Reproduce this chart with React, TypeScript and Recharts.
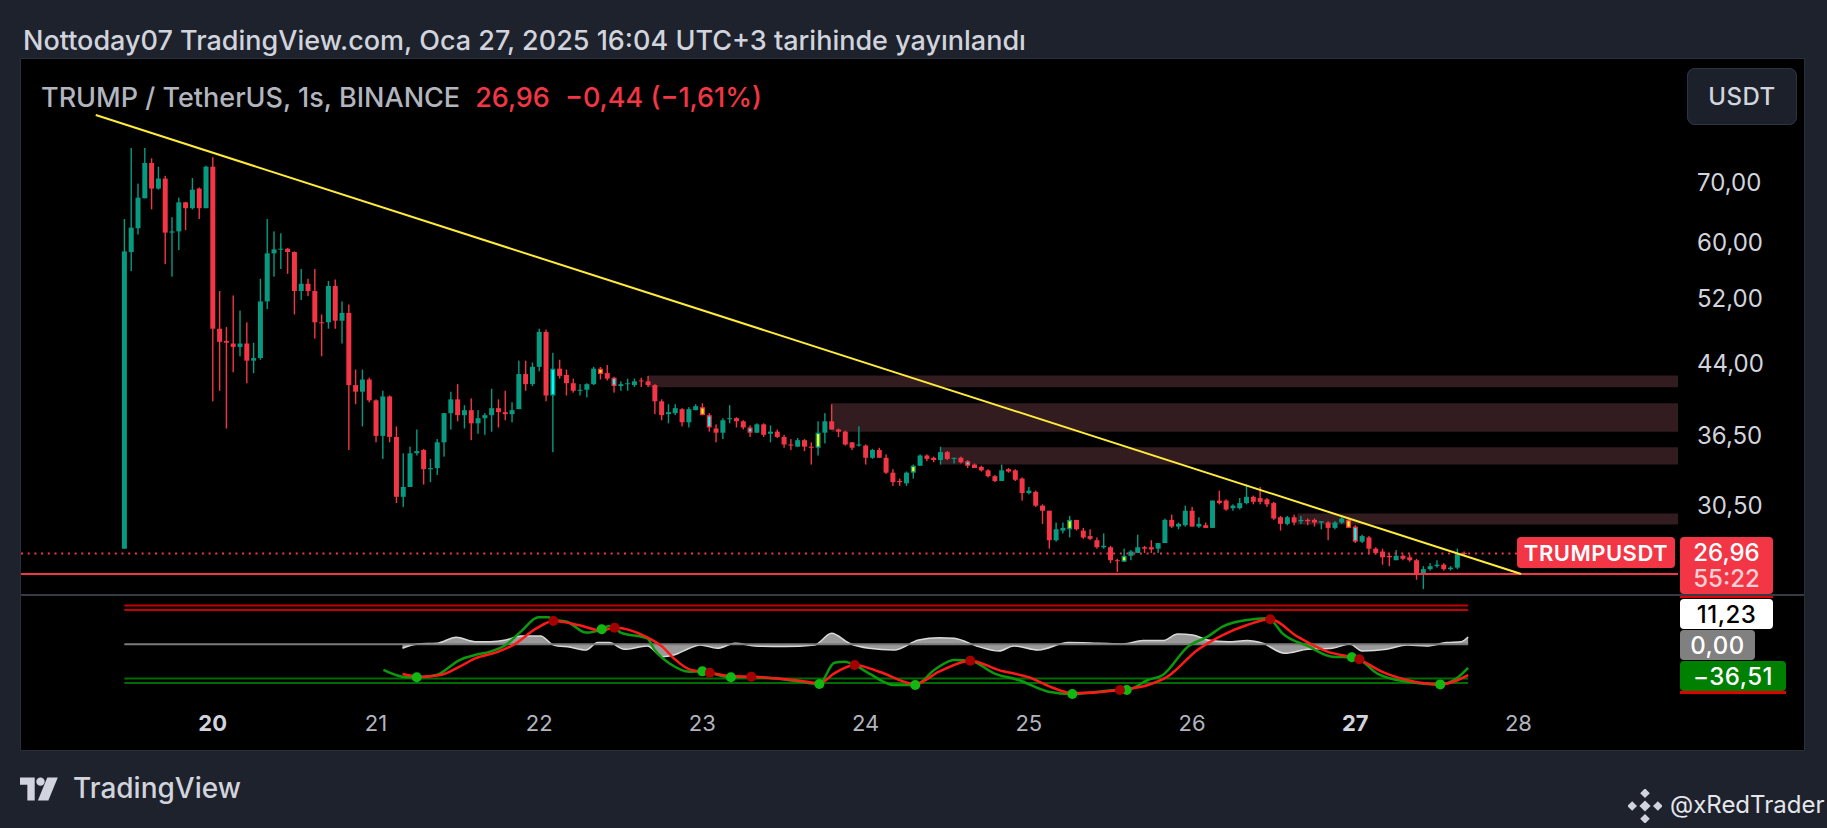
import { ComposedChart, Bar, Line, Area, Scatter, XAxis, YAxis, ReferenceLine, ReferenceArea } from 'recharts';

const UP = '#089981';
const DOWN = '#f23645';
const FONT = 'Inter, "Noto Sans", sans-serif';

// hourly candles, 19 Jan 11:00 -> 27 Jan 16:00, [open, high, low, close]
const OHLC: [number, number, number, number][] = [
  [27.3, 63.8, 27.3, 58.7], [58.6, 76.6, 55.8, 62.4], [62.3, 69.9, 61.3, 67.4], [67.3, 76.6, 67.3, 73.7],
  [73.7, 74.6, 65.4, 69.0], [69.0, 73.0, 68.8, 70.8], [70.8, 71.3, 56.8, 61.6], [61.6, 64.1, 55.0, 61.8],
  [61.8, 67.4, 58.9, 66.6], [66.6, 66.7, 62.0, 65.6], [65.6, 70.9, 65.4, 68.8], [69.0, 69.2, 63.8, 65.6],
  [65.6, 73.2, 65.6, 73.0], [73.0, 74.8, 39.9, 48.1], [48.1, 53.0, 41.0, 46.5], [46.6, 48.3, 37.2, 46.4],
  [46.3, 52.4, 43.0, 45.9], [45.9, 50.4, 44.8, 46.3], [46.3, 48.9, 41.8, 44.3], [44.3, 46.4, 42.9, 44.6],
  [44.6, 54.7, 44.4, 51.6], [51.6, 63.8, 50.6, 58.4], [58.4, 61.8, 55.0, 59.0], [59.0, 61.5, 56.1, 59.1],
  [59.1, 59.2, 55.4, 58.6], [58.6, 58.7, 49.9, 53.0], [53.0, 56.1, 51.8, 54.0], [54.0, 54.7, 52.3, 53.0],
  [53.0, 56.1, 46.9, 48.9], [48.9, 49.9, 44.8, 48.8], [48.9, 54.4, 48.1, 53.7], [53.7, 54.6, 48.1, 49.1],
  [49.1, 51.6, 46.3, 50.1], [50.1, 51.2, 35.2, 41.6], [41.6, 43.3, 39.6, 40.9], [40.9, 43.3, 37.4, 42.2],
  [42.2, 42.4, 39.8, 40.0], [40.0, 40.1, 35.9, 36.5], [36.5, 41.0, 34.4, 40.4], [40.4, 40.5, 35.9, 36.4],
  [36.4, 37.4, 30.7, 31.2], [31.2, 34.9, 30.4, 32.0], [32.0, 35.5, 32.0, 34.9], [34.9, 37.1, 34.7, 35.1],
  [35.2, 35.3, 32.2, 33.5], [33.5, 34.4, 32.4, 33.6], [33.6, 36.2, 33.0, 35.9], [35.9, 38.7, 34.6, 38.7],
  [38.7, 40.9, 37.1, 40.1], [40.1, 41.7, 37.9, 38.5], [38.5, 39.5, 37.2, 39.0], [39.0, 40.2, 36.1, 37.7],
  [37.7, 39.0, 36.7, 38.2], [38.2, 38.7, 36.6, 38.5], [38.5, 41.2, 36.9, 39.2], [39.2, 40.1, 37.3, 38.8],
  [38.8, 41.0, 38.0, 38.6], [38.6, 39.8, 37.8, 39.0], [39.1, 44.3, 39.1, 42.8], [42.8, 44.3, 41.0, 41.7],
  [41.7, 44.1, 41.5, 43.6], [43.6, 48.1, 43.1, 47.7], [47.7, 48.0, 39.9, 40.5], [40.5, 45.2, 35.0, 43.4],
  [43.4, 44.4, 42.3, 42.6], [42.7, 43.3, 40.5, 41.8], [41.8, 42.3, 40.8, 41.0], [41.0, 41.7, 40.5, 41.1],
  [41.1, 41.8, 40.3, 41.7], [41.7, 43.6, 41.6, 43.4], [43.4, 43.6, 42.2, 42.8], [42.9, 43.8, 42.1, 42.3],
  [42.4, 42.5, 40.8, 41.5], [41.5, 42.0, 41.0, 41.7], [41.7, 42.3, 41.0, 41.8], [41.6, 42.3, 41.4, 42.0],
  [42.1, 42.4, 41.4, 42.0], [42.0, 42.6, 41.4, 41.6], [41.6, 41.7, 38.6, 39.9], [39.9, 40.1, 38.0, 38.5],
  [38.6, 39.6, 37.7, 38.8], [38.7, 39.6, 38.5, 39.2], [39.1, 39.2, 37.4, 37.8], [37.8, 39.3, 37.3, 39.1],
  [39.0, 39.6, 39.0, 39.4], [39.3, 39.7, 38.5, 38.5], [38.5, 38.7, 36.9, 37.3], [37.2, 37.6, 35.9, 36.8],
  [36.8, 38.2, 36.2, 38.0], [38.1, 39.5, 37.7, 38.2], [38.2, 38.3, 37.3, 37.9], [37.9, 38.0, 37.1, 37.3],
  [37.3, 37.5, 36.4, 36.8], [36.8, 37.7, 36.8, 37.6], [37.6, 37.7, 36.4, 36.6], [36.7, 37.5, 35.9, 36.9],
  [36.9, 37.1, 36.3, 36.4], [36.4, 36.6, 35.4, 35.7], [35.7, 36.2, 35.2, 35.6], [35.5, 36.3, 35.5, 36.1],
  [36.1, 36.2, 35.1, 35.5], [35.5, 35.9, 33.9, 35.4], [35.4, 37.9, 34.7, 36.8], [36.8, 38.7, 35.8, 37.9],
  [37.9, 39.6, 37.1, 37.1], [37.1, 37.2, 36.4, 36.9], [36.9, 37.0, 35.6, 35.7], [35.9, 35.9, 35.2, 35.4],
  [35.6, 37.4, 35.5, 35.7], [35.6, 35.7, 33.9, 34.5], [34.5, 35.3, 34.4, 35.2], [35.2, 35.4, 34.5, 34.5],
  [34.5, 34.8, 33.1, 33.2], [33.2, 33.5, 32.1, 32.4], [32.5, 32.7, 32.1, 32.4], [32.3, 33.3, 32.1, 33.2],
  [33.2, 33.9, 32.7, 33.8], [33.8, 34.8, 33.8, 34.7], [34.7, 34.8, 34.2, 34.4], [34.5, 34.6, 34.1, 34.3],
  [34.3, 35.5, 33.9, 35.0], [35.0, 35.1, 34.3, 34.4], [34.4, 34.5, 34.0, 34.5], [34.5, 34.6, 34.0, 34.1],
  [34.2, 34.3, 33.6, 33.8], [33.9, 34.0, 33.6, 33.6], [33.7, 33.8, 33.3, 33.4], [33.4, 33.5, 32.8, 32.9],
  [32.9, 33.0, 32.4, 32.5], [32.5, 33.9, 32.5, 33.4], [33.5, 33.6, 33.2, 33.3], [33.4, 33.5, 32.5, 32.6],
  [32.7, 32.8, 30.9, 31.5], [31.5, 32.0, 31.4, 31.7], [31.6, 31.7, 30.4, 30.5], [30.5, 30.6, 29.1, 30.1],
  [30.1, 30.1, 27.3, 27.9], [27.9, 29.2, 27.8, 28.7], [28.6, 29.2, 28.4, 28.8], [28.7, 29.7, 28.1, 29.4],
  [29.4, 29.4, 28.6, 28.7], [28.6, 28.8, 28.0, 28.1], [28.2, 28.7, 27.9, 28.0], [27.9, 28.1, 27.3, 27.4],
  [27.4, 28.4, 27.3, 27.5], [27.4, 27.5, 26.3, 26.5], [26.5, 26.6, 25.7, 26.45], [26.4, 27.3, 26.4, 26.8],
  [26.8, 27.2, 26.5, 27.1], [27.0, 28.3, 27.0, 27.4], [27.4, 27.5, 27.0, 27.3], [27.4, 27.9, 27.0, 27.25],
  [27.3, 27.7, 27.0, 27.7], [27.7, 29.5, 27.7, 29.4], [29.4, 29.8, 28.8, 28.9], [28.9, 29.2, 28.7, 29.1],
  [29.0, 30.5, 28.9, 30.1], [30.1, 30.4, 28.9, 28.9], [28.9, 29.6, 28.8, 29.1], [29.0, 29.2, 28.8, 28.8],
  [28.8, 30.9, 28.8, 30.9], [30.9, 31.7, 30.6, 30.7], [30.9, 31.0, 30.1, 30.2], [30.3, 30.6, 30.1, 30.5],
  [30.3, 31.1, 30.2, 30.7], [30.7, 32.2, 30.6, 31.2], [31.2, 31.3, 30.6, 30.8], [31.1, 32.0, 30.6, 30.8],
  [31.0, 31.1, 30.4, 30.6], [30.7, 30.8, 29.4, 29.5], [29.6, 29.7, 28.6, 29.1], [29.1, 29.7, 29.0, 29.6],
  [29.6, 29.8, 29.0, 29.2], [29.3, 29.7, 29.1, 29.4], [29.4, 29.5, 29.0, 29.3], [29.4, 29.5, 28.9, 29.2],
  [29.2, 29.3, 28.7, 29.3], [29.2, 29.3, 27.9, 28.8], [28.8, 29.3, 28.7, 29.2], [29.2, 29.7, 29.1, 29.5],
  [29.4, 29.6, 28.8, 28.8], [28.9, 29.0, 27.7, 27.8], [27.8, 28.3, 27.7, 28.2], [28.1, 28.2, 26.9, 27.3],
  [27.3, 27.4, 26.9, 27.0], [27.1, 27.3, 26.2, 26.7], [26.8, 27.0, 26.1, 26.7], [26.5, 27.2, 26.5, 26.8],
  [26.8, 26.9, 26.5, 26.6], [26.7, 26.9, 26.4, 26.5], [26.5, 26.6, 25.2, 25.6], [25.6, 26.1, 24.6, 25.9],
  [25.9, 26.3, 25.8, 26.1], [26.1, 26.5, 26.0, 26.2], [26.2, 26.3, 25.8, 25.9], [25.9, 26.1, 25.8, 26.0],
  [26.0, 27.3, 25.9, 26.9], [27.0, 27.1, 26.8, 26.96],
];

// bars painted by the indicator
const CYAN_BARS = [63, 72, 86, 92, 124, 181];
const YELLOW_BARS = [70, 85, 102, 116, 139, 147, 180];

const PRICE_TICKS = [30.5, 36.5, 44, 52, 60, 70];
const DAY_TICKS = [13, 37, 61, 85, 109, 133, 157, 181, 205];
const DAY_LABELS = ['20', '21', '22', '23', '24', '25', '26', '27', '28'];
const BOLD_DAYS = ['20', '27'];

const ZONES = [
  { from: 77, top: 42.65, bottom: 41.36 },
  { from: 104, top: 39.7, bottom: 36.9 },
  { from: 120, top: 35.44, bottom: 33.9 },
  { from: 172.5, top: 29.89, bottom: 29.05 },
];

const TREND = [{ i: -4.2, p: 83.4 }, { i: 205.4, p: 25.58 }];
const SUPPORT = 25.58;
const LAST_PRICE = 26.96;

// WaveTrend oscillator: [bar index, value]
const WT1 = [
  [38.1, -39.8], [41.5, -51.2], [43, -51.2], [45.9, -47.6], [49.3, -24.4], [51.6, -16.6], [53.8, -11.4],
  [56.1, -1.1], [58.3, 19.6], [60.9, 41.8], [62.3, 41.8], [63.1, 38], [65.1, 35], [67.9, 18.1], [70.2, 23.2],
  [71.3, 28.4], [72.1, 26], [73, 18.1], [76.9, 9.3], [78, -9], [80.3, -30.6], [83.1, -42.5], [85, -42],
  [86.1, -44.1], [89.2, -51.2], [92.2, -50.2], [95.6, -52.8], [99.3, -58], [102.2, -61.6], [104.4, -28.5],
  [105.9, -27], [107.4, -32.1], [109.5, -45.1], [113.2, -63.2], [116.3, -63.2], [119.1, -39.9], [122, -24.4],
  [124.4, -25.4], [127.9, -45.1], [131.5, -55.4], [135.9, -73.5], [139.4, -77.1], [143.2, -73.5],
  [146.4, -70.9], [147.4, -70.9], [150.5, -55.4], [152.7, -47.6], [156.4, -3.6], [159.3, 11.9], [161.5, 27.4],
  [165.1, 37.7], [168.1, 40.3], [168.5, 38.8], [170.3, 17], [174, -2.6], [177.6, -19.2], [180.5, -20.2],
  [181.6, -23.3], [184.2, -45.1], [188.6, -58], [193.5, -62.2], [195.9, -52.8], [197.6, -36.5],
].map(([i, v]) => ({ i, v }));

const WT2 = [
  [40.9, -46], [43.7, -50.2], [46.5, -47.6], [49.3, -34.7], [51.6, -21.8], [55, -11.4], [57.2, -1.1],
  [60.6, 24.7], [63.1, 36.1], [66.8, 29.9], [70.2, 21.2], [72.1, 25.8], [76.9, 10.9], [79.1, -3.6],
  [80.8, -21.8], [83.1, -38.9], [86.1, -44], [89.2, -49.2], [92.2, -50.2], [95.6, -52.8], [99.3, -56.4],
  [102.2, -60.6], [104.4, -45.1], [107.4, -32.1], [111, -42.5], [116.3, -61.6], [119.8, -42.5],
  [124.4, -25.4], [128.6, -40], [133, -51.2], [136.7, -68.2], [139.4, -76], [146.4, -70.9], [150.5, -63.2],
  [153.4, -50.2], [157.8, -8.8], [161.5, 14.4], [165.1, 30], [168.5, 38.8], [172.5, 11.9], [176.9, -11.4],
  [181.6, -23.3], [184.9, -42.5], [188.6, -55.4], [193.5, -62.2], [197.6, -47.7],
].map(([i, v]) => ({ i, v }));

const WT_DIFF = [
  [40.9, -6.2], [43.1, 0.5], [46, 1.6], [48.8, 10.9], [51.6, 4.1], [53.8, 4.1], [56.1, 6.7], [58.3, 12.9],
  [61.2, 12.9], [63.1, -1.1], [65.6, -4.7], [67.9, -8.8], [69.6, 2.6], [71.3, 2.6], [73.5, -7.8],
  [76.9, -2.6], [79.1, -19.2], [80.8, -16.6], [83.1, -6.2], [84.7, -1.1], [87.2, -6.2], [89.8, 1.6],
  [92.7, -2.6], [97.1, -3.6], [101.5, -1.1], [104, 17], [106.6, 1.6], [109.5, -6.2], [113.2, -8.8],
  [116.8, 6.7], [119.8, 10.3], [122, 9.3], [125.6, -3.6], [128.6, -10.4], [130.8, -2.6], [134.4, -8.8],
  [138.8, 2.6], [143.2, 1.6], [146.9, 0.5], [149.8, 5.7], [152.7, 5.7], [154.9, 16], [157.1, 14.4],
  [159.3, 6.7], [162.3, 4.1], [165.1, 5.7], [167.4, 1.6], [170.6, -13.9], [174, -7.8], [177.6, -6.2],
  [180.2, 0.5], [182, -10.4], [185.6, -7.8], [188.6, -1.1], [191.5, -2.6], [194.4, 2.6], [196.6, 4.1],
  [197.6, 11.2],
].map(([i, v]) => ({ i, v }));

const BULL_CROSS = [
  [43, -51.2], [70.2, 23.2], [85, -42], [89.2, -51.2], [102.2, -61.6], [116.3, -63.2], [139.4, -77.1],
  [147.4, -70.9], [180.5, -20.2], [193.5, -62.2],
].map(([i, v]) => ({ i, v }));

const BEAR_CROSS = [
  [63.1, 36.1], [72.1, 25.8], [86.1, -44], [92.2, -50.2], [107.4, -32.1], [124.4, -25.4], [146.4, -70.9],
  [168.5, 38.8], [181.6, -23.3],
].map(([i, v]) => ({ i, v }));

const OSC_LEVELS = [60, 53, 0, -53, -60];
const OSC_END = 197.6;

const X_DOMAIN: [number, number] = [-15.19, 228.46];
const PRICE_DOMAIN: [number, number] = [24.23, 96.33];
const OSC_DOMAIN: [number, number] = [-86.4, 74.9];

const candles = OHLC.map(([o, h, l, c], i) => ({
  i,
  range: [l, h],
  o, h, l, c,
  mark: CYAN_BARS.includes(i) ? 'cyan' : YELLOW_BARS.includes(i) ? 'yellow' : null,
}));

const fmt = (v: number) => v.toFixed(2).replace('.', ',');

function renderCandle(props: any) {
  const { x, y, width, height, payload } = props;
  if (x == null || y == null) return <g />;
  const { o, h, l, c, mark } = payload;
  const top = height < 0 ? y + height : y;
  const span = Math.abs(height);
  const lnSpan = Math.log(h) - Math.log(l);
  const at = (v: number) => (lnSpan > 0 ? top + (span * (Math.log(h) - Math.log(v))) / lnSpan : top);
  const color = c >= o ? UP : DOWN;
  const bTop = at(Math.max(o, c));
  const bH = Math.max(1, at(Math.min(o, c)) - bTop);
  const cx = x + width / 2;
  return (
    <g>
      <rect x={cx - 0.7} y={top} width={1.4} height={Math.max(1, span)} fill={color} />
      <rect x={x} y={bTop} width={width} height={bH} fill={color} />
      {mark && bH > 3 && (
        <rect x={x + 1.4} y={bTop + 1.4} width={width - 2.8} height={bH - 2.8} fill={mark === 'cyan' ? '#00ffff' : '#ffff00'} />
      )}
    </g>
  );
}

const PriceTick = ({ x, y, payload }: any) => (
  <text x={x + 19} y={y} fill="#d1d4dc" fontSize={24} fontFamily={FONT} dominantBaseline="central">
    {fmt(payload.value)}
  </text>
);

const DayTick = ({ x, y, payload }: any) => {
  const label = DAY_LABELS[DAY_TICKS.indexOf(payload.value)];
  const bold = BOLD_DAYS.includes(label);
  return (
    <text x={x} y={y + 23} textAnchor="middle" dominantBaseline="central" fill={bold ? '#d1d4dc' : '#b2b5be'}
      fontWeight={bold ? 700 : 400} fontSize={22} fontFamily={FONT}>
      {label}
    </text>
  );
};

const Tag = ({ left, top, width, height, bg, color, children, size = 24, weight = 500, radius = 4 }: any) => (
  <div style={{
    position: 'absolute', left, top, width, height, background: bg, color, borderRadius: radius,
    display: 'flex', alignItems: 'center', justifyContent: 'center', fontSize: size, fontWeight: weight,
    fontFamily: FONT, letterSpacing: 0.5,
  }}>
    {children}
  </div>
);

export default function App() {
  return (
    <div style={{ position: 'fixed', left: 0, top: 0, width: 1827, height: 828, background: '#1e222d', overflow: 'hidden', fontFamily: FONT }}>
      <div style={{ position: 'absolute', left: 23, top: 25, height: 32, lineHeight: '32px', fontSize: 27, fontWeight: 500, color: '#d1d4dc', whiteSpace: 'nowrap' }}>
        Nottoday07 TradingView.com, Oca 27, 2025 16:04 UTC+3 tarihinde yayınlandı
      </div>

      <div style={{ position: 'absolute', left: 20, top: 58, width: 1785, height: 693, background: '#000', border: '1px solid #2a2e39', boxSizing: 'border-box' }} />

      <div style={{ position: 'absolute', left: 21, top: 59 }}>
        <ComposedChart width={1783} height={536} data={candles} margin={{ top: 0, right: 0, bottom: 0, left: 0 }}>
          <XAxis type="number" dataKey="i" domain={X_DOMAIN} allowDataOverflow hide />
          <YAxis type="number" orientation="right" scale="log" domain={PRICE_DOMAIN} allowDataOverflow ticks={PRICE_TICKS}
            interval={0} tick={<PriceTick />} width={126} axisLine={false} tickLine={false} tickSize={0} tickMargin={0} />
          {ZONES.map((z, k) => (
            <ReferenceArea key={k} x1={z.from} x2={X_DOMAIN[1]} y1={z.bottom} y2={z.top} fill="#331c1f" fillOpacity={1} stroke="none" />
          ))}
          <ReferenceLine y={SUPPORT} stroke={DOWN} strokeWidth={2} />
          <ReferenceLine segment={[{ x: X_DOMAIN[0], y: LAST_PRICE }, { x: 204.8, y: LAST_PRICE }]} stroke={DOWN} strokeWidth={2} strokeDasharray="2 4.7" />
          <Bar dataKey="range" barSize={5} shape={renderCandle} isAnimationActive={false} />
          <ReferenceLine segment={[{ x: TREND[0].i, y: TREND[0].p }, { x: TREND[1].i, y: TREND[1].p }]} stroke="#ffeb3b" strokeWidth={2} />
        </ComposedChart>
      </div>

      <div style={{ position: 'absolute', left: 21, top: 594, width: 1783, height: 2, background: '#363a45' }} />

      <div style={{ position: 'absolute', left: 21, top: 596 }}>
        <ComposedChart width={1783} height={154} margin={{ top: 0, right: 0, bottom: 0, left: 0 }}>
          <XAxis type="number" dataKey="i" domain={X_DOMAIN} allowDataOverflow ticks={DAY_TICKS} interval={0}
            tick={<DayTick />} height={50} axisLine={false} tickLine={false} tickSize={0} tickMargin={0} />
          <YAxis type="number" orientation="right" domain={OSC_DOMAIN} allowDataOverflow width={126} tick={false} axisLine={false} tickLine={false} />
          {OSC_LEVELS.map((v) => (
            <ReferenceLine key={v} segment={[{ x: 0, y: v }, { x: OSC_END, y: v }]}
              stroke={v > 0 ? '#c40000' : v < 0 ? '#006b00' : '#7a7a7a'} strokeWidth={2} />
          ))}
          <Line data={WT1} dataKey="v" type="monotone" stroke="#0c9a0c" strokeWidth={2.5} dot={false} isAnimationActive={false} />
          <Line data={WT2} dataKey="v" type="monotone" stroke="#ff1a1a" strokeWidth={2.5} dot={false} isAnimationActive={false} />
          <Area data={WT_DIFF} dataKey="v" type="monotone" baseValue={0} fill="#ffffff" fillOpacity={0.6} stroke="#d9d9d9" strokeWidth={1.5} isAnimationActive={false} />
          <Scatter data={BULL_CROSS} dataKey="v" isAnimationActive={false}
            shape={(p: any) => <circle cx={p.cx} cy={p.cy} r={5} fill="#12b812" />} />
          <Scatter data={BEAR_CROSS} dataKey="v" isAnimationActive={false}
            shape={(p: any) => <circle cx={p.cx} cy={p.cy} r={5} fill="#a30000" />} />
        </ComposedChart>
      </div>

      {/* legend */}
      <div style={{ position: 'absolute', left: 41, top: 82, height: 32, lineHeight: '32px', fontSize: 27, fontWeight: 500, whiteSpace: 'nowrap' }}>
        <span style={{ color: '#b2b5be' }}>TRUMP / TetherUS, 1s, BINANCE</span>
        <span style={{ color: DOWN, marginLeft: 15 }}>26,96</span>
        <span style={{ color: DOWN, marginLeft: 15 }}>−0,44 (−1,61%)</span>
      </div>

      <Tag left={1687} top={68} width={110} height={57} bg="#1c202b" color="#d1d4dc" size={24} radius={8}>
        <div style={{ position: 'absolute', inset: 0, border: '1px solid #2e3340', borderRadius: 8 }} />
        USDT
      </Tag>

      {/* price tags */}
      <Tag left={1517} top={537} width={158} height={31} bg={DOWN} color="#fff" size={22} weight={600}>TRUMPUSDT</Tag>
      <div style={{ position: 'absolute', left: 1680, top: 537, width: 93, height: 57, background: DOWN, borderRadius: 4, fontFamily: FONT }}>
        <div style={{ position: 'absolute', left: 0, right: 0, top: 1, textAlign: 'center', fontSize: 24, color: '#fff', fontWeight: 500 }}>26,96</div>
        <div style={{ position: 'absolute', left: 0, right: 0, top: 27, textAlign: 'center', fontSize: 24, color: '#fbd0d4', fontWeight: 500 }}>55:22</div>
      </div>
      <div style={{ position: 'absolute', left: 1680, top: 596, width: 93, height: 2, background: '#e00000' }} />
      <Tag left={1680} top={599} width={93} height={30} bg="#ffffff" color="#000">11,23</Tag>
      <Tag left={1680} top={630} width={75} height={30} bg="#808080" color="#fff">0,00</Tag>
      <Tag left={1680} top={661} width={106} height={30} bg="#008000" color="#fff">−36,51</Tag>
      <div style={{ position: 'absolute', left: 1680, top: 691, width: 106, height: 3, background: '#e00000' }} />

      {/* footer */}
      <svg style={{ position: 'absolute', left: 20, top: 776 }} width={42} height={26} viewBox="0 0 40 24">
        <path d="M0 1 H14 V23 H7 V8 H0 Z" fill="#d1d4dc" />
        <circle cx={19.5} cy={5} r={4} fill="#d1d4dc" />
        <path d="M26 1 H36 L27 23 H17 Z" fill="#d1d4dc" />
      </svg>
      <div style={{ position: 'absolute', left: 73, top: 771, height: 34, lineHeight: '34px', fontSize: 28, fontWeight: 500, color: '#d1d4dc' }}>
        TradingView
      </div>

      <svg style={{ position: 'absolute', left: 1628, top: 789 }} width={34} height={34} viewBox="0 0 30 30">
        <g fill="#d1d4dc" transform="rotate(45 15 15)">
          <rect x={11.5} y={11.5} width={7} height={7} />
          <rect x={4} y={4} width={6} height={6} />
          <rect x={20} y={20} width={6} height={6} />
          <rect x={4} y={20} width={6} height={6} />
          <rect x={20} y={4} width={6} height={6} />
        </g>
      </svg>
      <div style={{ position: 'absolute', left: 1670, top: 789, height: 32, lineHeight: '32px', fontSize: 24, color: '#e4e6eb' }}>
        @xRedTrader
      </div>
    </div>
  );
}
